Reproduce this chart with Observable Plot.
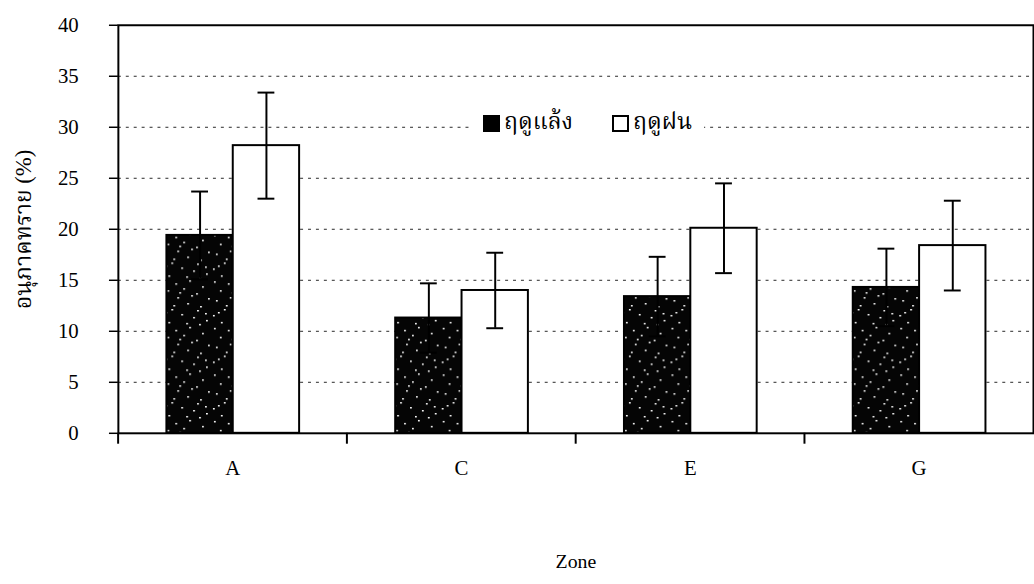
<!DOCTYPE html>
<html>
<head>
<meta charset="utf-8">
<script src="https://cdn.jsdelivr.net/npm/d3@7"></script>
<script src="https://cdn.jsdelivr.net/npm/@observablehq/plot@0.6"></script>
<style>
  html, body { margin: 0; padding: 0; background: #fff; overflow: hidden; }
  #wrap { position: relative; width: 1034px; height: 584px; overflow: hidden; }
  #legend {
    position: absolute; left: 470px; top: 108px; height: 30px;
    background: #fff; padding: 0 12px 0 13px;
    display: flex; align-items: center;
    font-family: "Liberation Serif", "Noto Serif Thai", "Noto Sans Thai", "Garuda", "Loma", serif;
    font-size: 23px; color: #000;
  }
  #legend .sw { display: inline-block; width: 17px; height: 17px; box-sizing: border-box; border: 2px solid #000; margin-right: 4px; }
  #legend .item { display: flex; align-items: center; margin-right: 39px; }
  #legend .item:last-child { margin-right: 0; }
</style>
</head>
<body>
<div id="wrap"><div id="legend"></div></div>
<script>
// ---- data ----
const zones = ["A", "C", "E", "G"];
const seasons = ["ฤดูแล้ง", "ฤดูฝน"];           // dry season, rainy season
const dryMean = [19.4, 11.3, 13.4, 14.3];
const dryErr  = [4.3, 3.4, 3.9, 3.8];
const wetMean = [28.2, 14.0, 20.1, 18.4];
const wetErr  = [5.2, 3.7, 4.4, 4.4];
const yTicks  = [0, 5, 10, 15, 20, 25, 30, 35, 40];
const yLabel  = "อนุภาคทราย (%)";
const xLabel  = "Zone";

const data = zones.flatMap((z, i) => [
  {zone: z, season: seasons[0], value: dryMean[i], err: dryErr[i]},
  {zone: z, season: seasons[1], value: wetMean[i], err: wetErr[i]}
]);
const dry = data.filter(d => d.season === seasons[0]);
const wet = data.filter(d => d.season === seasons[1]);

const W = 1044, ML = 118, MR = 0;
const band = (W - ML - MR) / zones.length;
const serif = "'Liberation Serif', 'Times New Roman', serif";
const thai = "'Liberation Serif', 'Noto Serif Thai', 'Noto Sans Thai', Garuda, Loma, serif";

const chart = Plot.plot({
  width: W, height: 584,
  marginLeft: ML, marginRight: MR, marginTop: 25, marginBottom: 147,
  style: {fontFamily: serif, fontSize: "20px", background: "#fff", color: "#000"},
  fx: {domain: zones, padding: 0},
  x: {domain: seasons, paddingInner: 0, paddingOuter: 0.72, axis: null},
  y: {domain: [0, 40]},
  marks: [
    Plot.gridY(yTicks.filter(t => t > 0 && t < 40), {stroke: "#000", strokeOpacity: 0.85, strokeWidth: 1, strokeDasharray: "3,5"}),
    Plot.barY(dry, {fx: "zone", x: "season", y: "value", fill: "url(#speckle)", stroke: "#000", strokeWidth: 2}),
    Plot.barY(wet, {fx: "zone", x: "season", y: "value", fill: "#fff", stroke: "#000", strokeWidth: 2}),
    Plot.ruleX(data, {fx: "zone", x: "season", y1: d => d.value - d.err, y2: d => d.value + d.err, stroke: "#000", strokeWidth: 2}),
    Plot.tickY(data, {fx: "zone", x: "season", y: d => d.value + d.err, stroke: "#000", strokeWidth: 2, inset: 25}),
    Plot.tickY(data, {fx: "zone", x: "season", y: d => d.value - d.err, stroke: "#000", strokeWidth: 2, inset: 25}),
    Plot.frame({facet: "super", stroke: "#000", strokeWidth: 2}),
    Plot.axisY({ticks: yTicks, tickSize: 9, tickPadding: 31, strokeWidth: 1.5, fontSize: 21, label: null, fontFamily: serif}),
    Plot.axisFx({anchor: "bottom", tickSize: 0, tickPadding: 27, fontSize: 21, label: null}),
    Plot.axisFx({anchor: "bottom", tickSize: 11, tickFormat: () => "", label: null, dx: -band / 2, strokeWidth: 2}),
    Plot.text([yLabel], {facet: "super", frameAnchor: "left", textAnchor: "middle", rotate: -90, dx: -96, fontSize: 23, fontFamily: thai}),
    Plot.text([xLabel], {facet: "super", frameAnchor: "bottom", dy: 136, fontSize: 20, fontFamily: serif})
  ]
});

// speckled black fill pattern for the dry-season bars
const ns = "http://www.w3.org/2000/svg";
const defs = document.createElementNS(ns, "defs");
const pat = document.createElementNS(ns, "pattern");
pat.setAttribute("id", "speckle");
pat.setAttribute("patternUnits", "userSpaceOnUse");
pat.setAttribute("width", "53");
pat.setAttribute("height", "47");
const bg = document.createElementNS(ns, "rect");
bg.setAttribute("width", "53"); bg.setAttribute("height", "47"); bg.setAttribute("fill", "#050505");
pat.appendChild(bg);
const dots = [[3,2],[17,4],[31,1],[44,7],[9,11],[25,9],[38,14],[50,19],[5,21],[19,18],
              [29,24],[42,27],[13,30],[2,36],[23,35],[35,38],[47,34],[10,43],[28,44],[41,45],
              [15,26],[33,16],[48,41],[7,33],[21,13],[39,31]];
for (const [x, y] of dots) {
  const r = document.createElementNS(ns, "rect");
  r.setAttribute("x", x); r.setAttribute("y", y);
  r.setAttribute("width", "1.8"); r.setAttribute("height", "1.5");
  r.setAttribute("fill", "#fff");
  pat.appendChild(r);
}
defs.appendChild(pat);
chart.insertBefore(defs, chart.firstChild);

const wrap = document.getElementById("wrap");
wrap.insertBefore(chart, wrap.firstChild);

// legend drawn inside the plot area
const legend = document.getElementById("legend");
seasons.forEach((s, i) => {
  const item = document.createElement("span");
  item.className = "item";
  const sw = document.createElement("span");
  sw.className = "sw";
  sw.style.background = i === 0 ? "#000" : "#fff";
  item.appendChild(sw);
  item.appendChild(document.createTextNode(s));
  legend.appendChild(item);
});
</script>
</body>
</html>
